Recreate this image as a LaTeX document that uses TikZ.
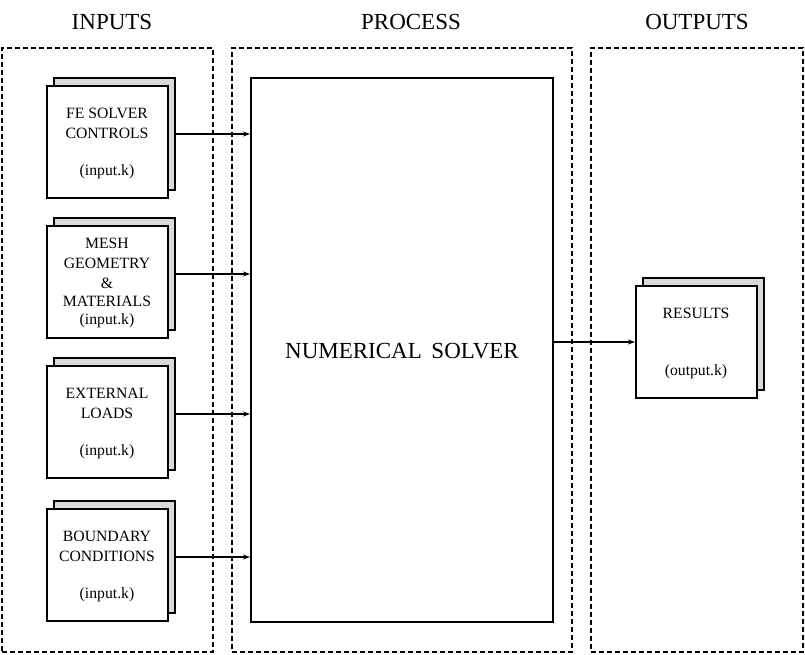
\documentclass[tikz,border=0pt]{standalone}
\usepackage{fontspec}
\setmainfont{Liberation Serif}
\usetikzlibrary{arrows.meta}
\begin{document}
\begin{tikzpicture}[x=1pt,y=-1pt,
  container/.style={draw,line width=2.4pt,dash pattern=on 5pt off 3pt},
  frontbox/.style={draw,line width=2pt,fill=white,minimum width=121pt,minimum height=112pt,inner sep=0pt},
  shadowbox/.style={draw,line width=2pt,fill=black!15,minimum width=121pt,minimum height=112pt,inner sep=0pt},
  lbl/.style={font=\fontsize{15.7}{17}\selectfont,inner sep=0pt},
  ttl/.style={font=\fontsize{23}{25}\selectfont,inner sep=0pt},
  arr/.style={line width=1.9pt,-{Stealth[length=7pt,width=5pt]}}]
\useasboundingbox (0,0) rectangle (805,655);
% containers
\node[container,minimum width=211pt,minimum height=604pt,inner sep=0pt] (cin) at (107.5,350) {};
\node[container,minimum width=340pt,minimum height=604pt,inner sep=0pt] (cproc) at (402,350) {};
\node[container,minimum width=212pt,minimum height=604pt,inner sep=0pt] (cout) at (697,350) {};
% titles
\node[ttl] (tin) at (112,22) {INPUTS};
\node[ttl] (tproc) at (411,22) {PROCESS};
\node[ttl] (tout) at (697,22) {OUTPUTS};
% solver
\node[draw,line width=2pt,minimum width=302pt,minimum height=544pt,inner sep=0pt] (solver) at (402,350) {};
\node[ttl] (solvertxt) at (402,351) {NUMERICAL\ \,SOLVER};
% input boxes
\node[shadowbox] (b1s) at (114.5,134) {};
\node[frontbox] (b1) at (107.5,142) {};
\node[shadowbox] (b2s) at (114.5,274) {};
\node[frontbox] (b2) at (107.5,282) {};
\node[shadowbox] (b3s) at (114.5,414) {};
\node[frontbox] (b3) at (107.5,422) {};
\node[shadowbox] (b4s) at (114.5,557) {};
\node[frontbox] (b4) at (107.5,565) {};
\node[shadowbox] (rs) at (703.5,334) {};
\node[frontbox] (r) at (696.5,342) {};
% labels
\node[lbl] (l1a) at (107,113) {FE SOLVER};
\node[lbl] (l1b) at (107,133) {CONTROLS};
\node[lbl] (l1c) at (107,172) {(input.k)};
\node[lbl] (l2a) at (107,243) {MESH};
\node[lbl] (l2b) at (107,263) {GEOMETRY};
\node[lbl] (l2c) at (107,283) {\&};
\node[lbl] (l2d) at (107,301) {MATERIALS};
\node[lbl] (l2e) at (107,321) {(input.k)};
\node[lbl] (l3a) at (107,393) {EXTERNAL};
\node[lbl] (l3b) at (107,413) {LOADS};
\node[lbl] (l3c) at (107,452) {(input.k)};
\node[lbl] (l4a) at (107,536) {BOUNDARY};
\node[lbl] (l4b) at (107,556) {CONDITIONS};
\node[lbl] (l4c) at (107,595) {(input.k)};
\node[lbl] (lra) at (696,313) {RESULTS};
\node[lbl] (lrb) at (696,372) {(output.k)};
% arrows
\draw[arr] (b1s.east) -- (b1s.east -| solver.west);
\draw[arr] (b2s.east) -- (b2s.east -| solver.west);
\draw[arr] (b3s.east) -- (b3s.east -| solver.west);
\draw[arr] (b4s.east) -- (b4s.east -| solver.west);
\draw[arr] (solver.east |- r.west) -- (r.west);
\end{tikzpicture}
\end{document}
